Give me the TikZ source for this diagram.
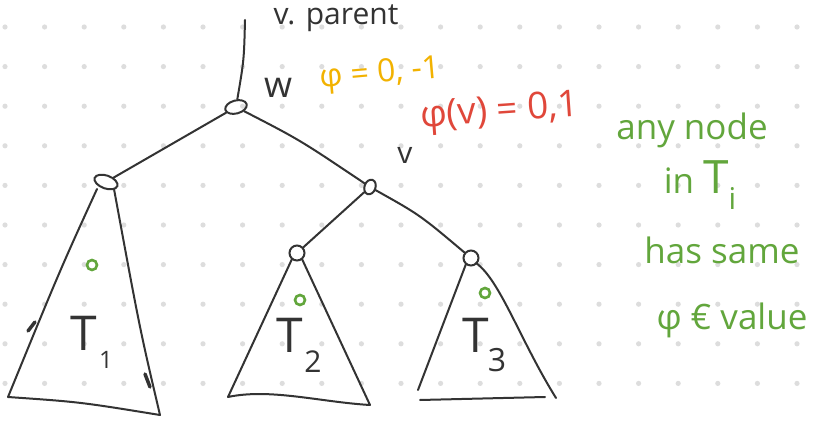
\documentclass[tikz,border=0pt]{standalone}
\usepackage{fontspec}
\setmainfont{Open Sans}
\usetikzlibrary{shapes.geometric}
\definecolor{ink}{HTML}{333333}
\definecolor{dotgray}{HTML}{DDDDDD}
\definecolor{hgreen}{HTML}{62A63C}
\definecolor{horange}{HTML}{F2B200}
\definecolor{hred}{HTML}{E0473A}
\newcommand{\fs}[1]{\fontsize{#1}{#1}\selectfont}
\begin{document}
\begin{tikzpicture}[x=1pt,y=-1pt,
  pen/.style={draw=ink, line width=2pt, line cap=round, line join=round},
  treenode/.style={ellipse, draw=ink, line width=2pt, inner sep=0pt},
  swirl/.style={draw=hgreen, line width=2.6pt},
  inklabel/.style={text=ink, inner sep=0pt},
  note/.style={text=hgreen, inner sep=0pt, font=\fs{35}}]
\fill[white] (0,0) rectangle (815,425);
\useasboundingbox (0,0) rectangle (815,425);
\foreach \i in {0,...,20} \foreach \j in {0,...,9}
  \fill[dotgray] ({5+39.6*\i},{27+39.6*\j}) circle (2.6);
% tree nodes
\node[treenode, minimum width=22, minimum height=13, rotate=15] (w) at (236,107) {};
\node[treenode, minimum width=24, minimum height=13, rotate=-20] (l) at (106,182) {};
\node[treenode, minimum width=11, minimum height=15, rotate=-20] (v) at (370,187) {};
\node[treenode, minimum width=15, minimum height=15] (t2) at (297,253) {};
\node[treenode, minimum width=15, minimum height=15] (t3) at (471,258) {};
\coordinate (top) at (245,20);
\draw[pen] (top) .. controls (244,60) .. (w);
\draw[pen] (w) -- (l);
\draw[pen] (w) .. controls (300,140) .. (v);
\draw[pen] (v) -- (t2);
\draw[pen] (v) .. controls (420,215) .. (t3);
% subtrees
\coordinate (a1) at (8,397); \coordinate (b1) at (160,415);
\draw[pen] ([shift={(-9,7)}]l.center) .. controls (60,270) .. (a1)
  .. controls (80,402) .. (b1) .. controls (140,330) .. ([shift={(8,7)}]l.center);
\draw[ink, line width=3.5pt, line cap=round] (28,331) -- (35,322);
\draw[ink, line width=3.5pt, line cap=round] (145,374) -- (150,387);
\coordinate (a2) at (228,397); \coordinate (b2) at (370,405);
\draw[pen] ([shift={(-5,6)}]t2.center) -- (a2)
  .. controls (270,388) and (320,402) .. (b2) -- ([shift={(5,6)}]t2.center);
\coordinate (a3) at (418,390); \coordinate (c3) at (420,400);
\coordinate (b3) at (545,397); \coordinate (d3) at (556,398);
\draw[pen] ([shift={(-5,6)}]t3.center) -- (a3);
\draw[pen] (c3) -- (b3);
\draw[pen] (d3) .. controls (520,340) and (500,280) .. ([shift={(5,5)}]t3.center);
% subtree labels
\node[inklabel, font=\fs{48}] (T1) at (84,333) {T};
\node[inklabel, font=\fs{24}] (s1) at (106,360) {1};
\node[inklabel, font=\fs{48}] (T2) at (290,335) {T};
\node[inklabel, font=\fs{30}] (s2) at (313,362) {2};
\node[inklabel, font=\fs{48}] (T3) at (476,335) {T};
\node[inklabel, font=\fs{32}] (s3) at (497,360) {3};
\draw[swirl] (92,265) circle (5);
\draw[swirl] (300,300) circle (5);
\draw[swirl] (485,293) circle (5);
% annotations
\node[inklabel, font=\fs{30}] (vp) at (336,18) {v. parent};
\node[inklabel, font=\fs{36}] (wl) at (278,88) {w};
\node[text=horange, inner sep=0pt, font=\fs{32}, rotate=5] (phiw) at (380,75) {φ = 0, -1};
\node[text=hred, inner sep=0pt, font=\fs{37}, rotate=4] (phiv) at (500,113) {φ(v) = 0,1};
\node[inklabel, font=\fs{30}] (vl) at (405,155) {v};
\node[note] (n1) at (692,130) {any node};
\node[note] (n2) at (700,185) {in \fs{46}T\raisebox{-0.35em}{\fs{30}i}};
\node[note] (n3) at (722,250) {has same};
\node[note] (n4) at (732,320) {φ € value};
\end{tikzpicture}
\end{document}
